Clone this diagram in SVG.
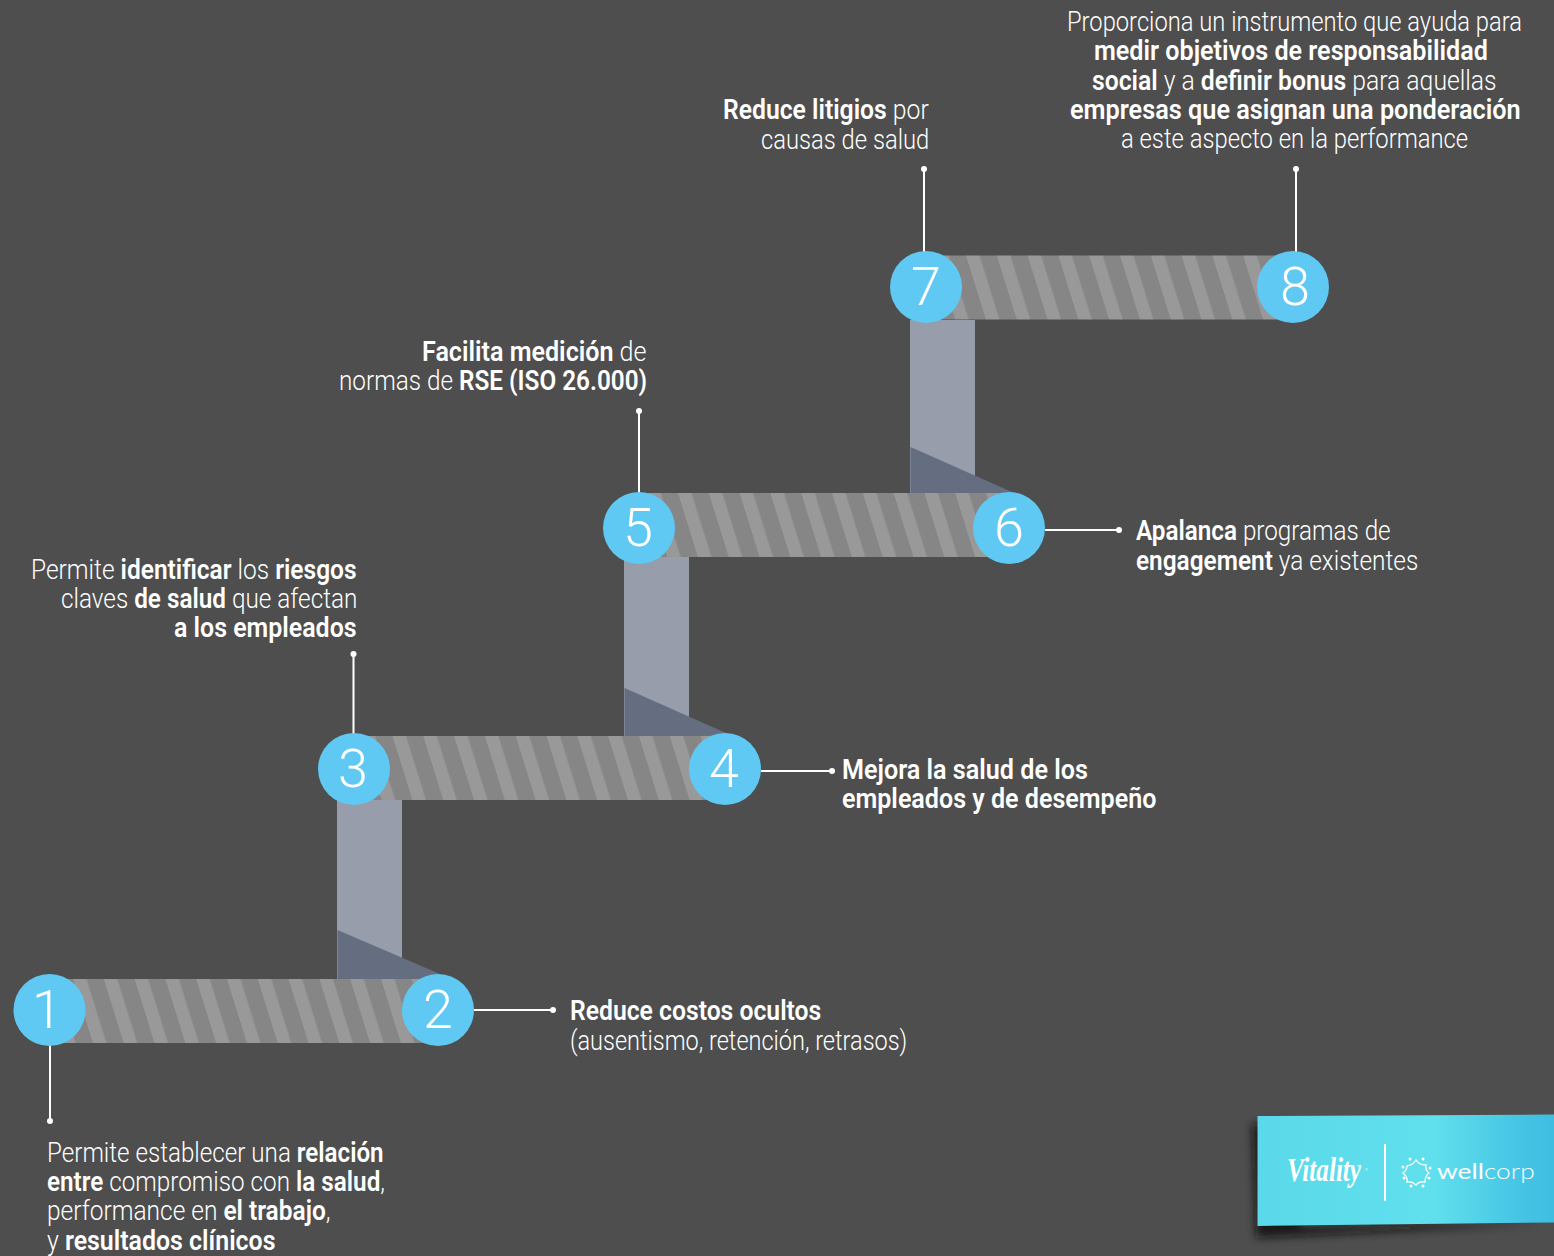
<svg xmlns="http://www.w3.org/2000/svg" width="1554" height="1256" viewBox="0 0 1554 1256">
<style>
.t{font-family:Roboto,"Liberation Sans",sans-serif;font-size:27px;font-weight:300;fill:#fff}
.t tspan{font-weight:600}
.n{font-family:Roboto,"Liberation Sans",sans-serif;font-size:54px;font-weight:300;fill:#fff;text-anchor:middle}
.c{fill:#5fc9f3}
.v{fill:#979dab}
.f{fill:#656d81}
.s{fill:url(#st)}
.l{stroke:#fff;stroke-width:2;fill:none}
.d{fill:#fff}
</style>
<defs>
<pattern id="st" patternUnits="userSpaceOnUse" width="30.8" height="64" patternTransform="skewX(17.3)">
<rect width="30.8" height="64" fill="#868686"/>
<rect x="0" width="13.5" height="64" fill="#999"/>
</pattern>
<linearGradient id="lg" x1="0" x2="1" y1="0" y2="0">
<stop offset="0" stop-color="#5bd9ea"/><stop offset=".6" stop-color="#60dfed"/><stop offset=".9" stop-color="#44c3e4"/><stop offset="1" stop-color="#3fbee2"/>
</linearGradient>
<filter id="bl" x="-10%" y="-30%" width="120%" height="160%"><feGaussianBlur stdDeviation="4"/></filter>
</defs>
<rect width="1554" height="1256" fill="#4e4e4e"/>

<g id="connectors">
<path class="v" d="M337 800H402V979H337Z"/><path class="f" d="M337.500 930L440 974L430 979H337.500Z"/>
<path class="v" d="M624 557H689V736H624Z"/><path class="f" d="M624.500 688L726 733L716 736H624.500Z"/>
<path class="v" d="M910 320H975V493H910Z"/><path class="f" d="M910.500 447L1012 492L1005 493H910.500Z"/>
<g transform="translate(73,979)"><rect class="s" x="-30" width="390" height="64"/></g>
<g transform="translate(392.500,736)"><rect class="s" x="-30" width="355" height="64"/></g>
<g transform="translate(678,493)"><rect class="s" x="-30" width="355" height="64"/></g>
<g transform="translate(966,255.500)"><rect class="s" x="-30" width="350" height="64"/></g>
<path class="l" d="M50 1044V1121M474 1010H553M353.500 654V735M761 771H832M639 411V494M1045 530H1119M924 169V253M1296 169V253"/>
<circle class="d" cx="50" cy="1121" r="3"/><circle class="d" cx="553" cy="1010" r="3"/><circle class="d" cx="353.500" cy="654" r="3"/><circle class="d" cx="832" cy="771" r="3"/><circle class="d" cx="639" cy="411" r="3"/><circle class="d" cx="1119" cy="530" r="3"/><circle class="d" cx="924" cy="169" r="3"/><circle class="d" cx="1296" cy="169" r="3"/>
</g>

<g id="node1"><circle class="c" cx="49.500" cy="1010" r="36"/><text class="n" x="47" y="1028">1</text>
<text class="t" transform="translate(47,1162) scale(.896,1)">Permite establecer una <tspan>relación</tspan></text>
<text class="t" transform="translate(47,1191) scale(.899,1)"><tspan>entre</tspan> compromiso con <tspan>la salud</tspan>,</text>
<text class="t" transform="translate(47,1220) scale(.907,1)">performance en <tspan>el trabajo</tspan>,</text>
<text class="t" transform="translate(47,1250) scale(.923,1)">y <tspan>resultados clínicos</tspan></text></g>

<g id="node2"><circle class="c" cx="438" cy="1010" r="36"/><text class="n" x="438" y="1028">2</text>
<text class="t" transform="translate(570,1020) scale(.916,1)"><tspan>Reduce costos ocultos</tspan></text>
<text class="t" transform="translate(570,1050) scale(.871,1)">(ausentismo, retención, retrasos)</text></g>

<g id="node3"><circle class="c" cx="354" cy="769" r="36"/><text class="n" x="353" y="787">3</text>
<text class="t" transform="translate(31,579) scale(.908,1)">Permite <tspan>identificar</tspan> los <tspan>riesgos</tspan></text>
<text class="t" transform="translate(61,608) scale(.9,1)">claves <tspan>de salud</tspan> que afectan</text>
<text class="t" transform="translate(174,637) scale(.924,1)"><tspan>a los empleados</tspan></text></g>

<g id="node4"><circle class="c" cx="725" cy="769" r="36"/><text class="n" x="724" y="787">4</text>
<text class="t" transform="translate(842,779) scale(.932,1)"><tspan>Mejora la salud de los</tspan></text>
<text class="t" transform="translate(842,808) scale(.929,1)"><tspan>empleados y de desempeño</tspan></text></g>

<g id="node5"><circle class="c" cx="639" cy="528" r="36"/><text class="n" x="638" y="546">5</text>
<text class="t" transform="translate(422,361) scale(.93,1)"><tspan>Facilita medición</tspan> de</text>
<text class="t" transform="translate(339,390) scale(.901,1)">normas de <tspan>RSE (ISO 26.000)</tspan></text></g>

<g id="node6"><circle class="c" cx="1009" cy="528" r="36"/><text class="n" x="1009" y="546">6</text>
<text class="t" transform="translate(1136,540) scale(.898,1)"><tspan>Apalanca</tspan> programas de</text>
<text class="t" transform="translate(1136,570) scale(.904,1)"><tspan>engagement</tspan> ya existentes</text></g>

<g id="node7"><circle class="c" cx="926" cy="287" r="36"/><text class="n" x="926" y="305">7</text>
<text class="t" transform="translate(723,119) scale(.916,1)"><tspan>Reduce litigios</tspan> por</text>
<text class="t" transform="translate(761,149) scale(.88,1)">causas de salud</text></g>

<g id="node8"><circle class="c" cx="1293" cy="287" r="36"/><text class="n" x="1295" y="305">8</text>
<text class="t" transform="translate(1067,31) scale(.879,1)">Proporciona un instrumento que ayuda para</text>
<text class="t" transform="translate(1094,60) scale(.931,1)"><tspan>medir objetivos de responsabilidad</tspan></text>
<text class="t" transform="translate(1092,90) scale(.916,1)"><tspan>social</tspan> y a <tspan>definir bonus</tspan> para aquellas</text>
<text class="t" transform="translate(1070,119) scale(.936,1)"><tspan>empresas que asignan una ponderación</tspan></text>
<text class="t" transform="translate(1121,148) scale(.881,1)">a este aspecto en la performance</text></g>

<g id="logo">
<path d="M1252 1124H1300V1226L1540 1224L1256 1238Z" fill="#111" opacity=".8" filter="url(#bl)"/>
<path d="M1257.500 1116L1554 1114.500V1222.500L1257.500 1226Z" fill="url(#lg)"/>
<text x="1287" y="1181" font-family="'Liberation Serif',serif" font-style="italic" font-weight="700" font-size="34" fill="#fff" textLength="74" lengthAdjust="spacingAndGlyphs">Vitality</text>
<text x="1365" y="1171" font-family="'Liberation Sans',sans-serif" font-size="4" fill="#fff">®</text>
<rect x="1384" y="1144" width="2" height="57" fill="#fff"/>
<path d="M1407 1166Q1413 1165 1416 1160Q1419 1165 1426 1165Q1425 1170 1429 1173Q1425 1176 1425 1182Q1419 1181 1416 1185Q1412 1181 1407 1182Q1408 1177 1403 1173Q1407 1170 1407 1166Z" fill="none" stroke="#fff" stroke-width="1.300"/>
<g fill="#fff"><circle cx="1403" cy="1167" r="1.500"/><circle cx="1404" cy="1178" r="1.500"/><circle cx="1410" cy="1159" r="1.500"/><circle cx="1423" cy="1159" r="1.500"/><circle cx="1430" cy="1168" r="1.500"/><circle cx="1429" cy="1178" r="1.500"/><circle cx="1423" cy="1186" r="1.500"/><circle cx="1411" cy="1186" r="1.500"/></g>
<text transform="translate(1437,1179) scale(1.2,1)" font-family="Lato,'Liberation Sans',sans-serif" font-size="22" fill="#fff"><tspan font-weight="400">well</tspan><tspan font-weight="300">corp</tspan></text>
</g>
</svg>
